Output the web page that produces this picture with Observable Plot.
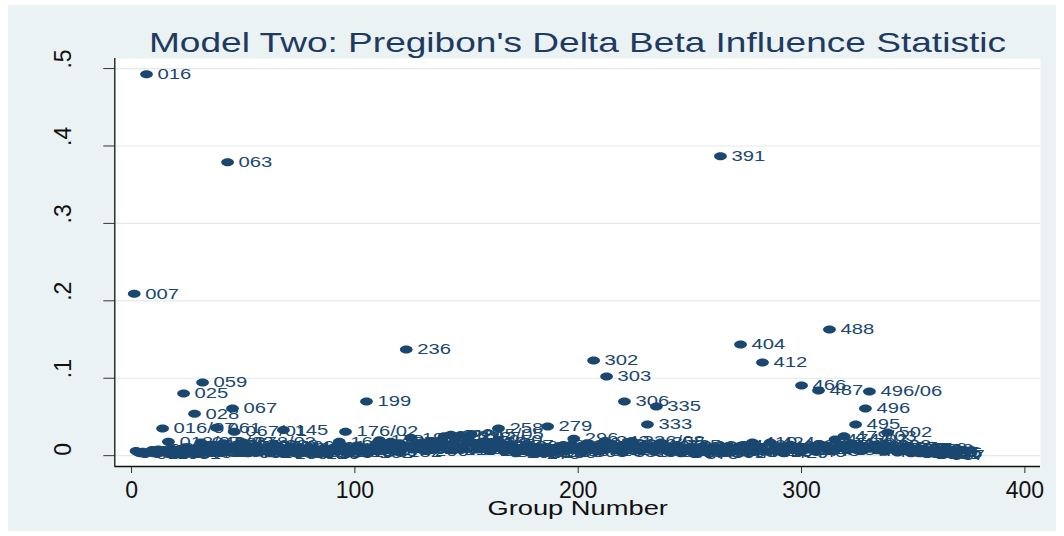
<!DOCTYPE html>
<html><head><meta charset="utf-8">
<script src="https://cdn.jsdelivr.net/npm/d3@7"></script>
<script src="https://cdn.jsdelivr.net/npm/@observablehq/plot@0.6"></script>
<style>
html,body{margin:0;padding:0;background:#fff;}
#wrap{position:relative;width:1064px;height:536px;overflow:hidden;background:#fff;font-family:"Liberation Sans",Arial,sans-serif;}
#bg{position:absolute;left:8px;top:5px;right:8px;bottom:5px;background:#eaf2f3;}
#chart{position:absolute;left:0;top:0;}
#title{position:absolute;left:115px;width:925px;top:27px;text-align:center;font-size:28.5px;line-height:30px;color:#1f3a60;transform:scaleX(1.3);transform-origin:center;white-space:nowrap;}
</style></head><body>
<div id="wrap"><div id="bg"></div><div id="chart"></div><div id="title">Model Two: Pregibon's Delta Beta Influence Statistic</div></div>
<script>
// Labelled outlying groups
const outGroup = [1.2, 6.7, 43, 263.7, 123, 206.9, 212.7, 272.7, 282.5, 312.5, 300, 307.6, 330.4, 328.6, 324.2, 338.5, 31.8, 23.3, 28.2, 45.2, 105.2, 220.7, 235, 231, 186.3, 164.3, 13.9, 95.8, 68];
const outBeta  = [0.209, 0.4925, 0.379, 0.3866, 0.137, 0.123, 0.1023, 0.1437, 0.1204, 0.163, 0.0907, 0.0843, 0.0829, 0.061, 0.0403, 0.030, 0.0946, 0.0804, 0.054, 0.061, 0.070, 0.070, 0.0636, 0.0403, 0.0377, 0.035, 0.035, 0.031, 0.033];
const outLabel = ["007","016","063","391","236","302","303","404","412","488","466","487","496/06","496","495","502","059","025","028","067","199","306","335","333","279","258","016/07","176/02","145"];

// Dense band of small values near zero
const bandGroup = [
 2,3,4,5,6,8,9,10,11,12,
 13,15,16.5,17,18,19,20,21,22,24,
 25,26,27,29,30,31,33,34,35,36,
 37,38,39,40,41,42,44,46,47,48,
 49,50,51,52,54,55,56,57,58,60,
 61,62,63,64,66,67,68,70,71,72,
 74,75,76,78,79,80,82,83,85,86,
 88,89,90,92,93,94,95,97,98,100,
 101,103,104,106,107,108,110,111,112,114,
 115,116,118,119,120,121,123,125,126,127,
 129,130,131,133,134,135,137,138,139,140,
 141,142,143,144,145,146,147,148,150,151,
 152,154,155,157,158,160,161,162,164,166,
 167,169,170,172,173,175,176,178,179,181,
 182,184,185,187,188,190,191,193,194,196,
 197,198,199,201,202,204,205,208,209,210,
 211,212,214,215,217,218,220,221,224,225,
 226,228,229,231,233,234,237,238,240,241,
 243,244,246,247,249,250,252,253,255,256,
 258,259,261,262,264,266,267,269,270,272,
 273,275,276,278,279,281,282,285,286,288,
 289,291,292,294,295,297,298,300,302,303,
 305,306,308,310,311,313,315,316,318,319,
 321,322,324,326,327,329,331,333,334,336,
 337,338,340,341,343,344,346,347,349,350,
 351,352,353,354,355,355.5,356,357,357.5,358,
 358.5,359,360,360.5,361,362];
const bandBeta = [
 .006,.004,.003,.005,.002,.004,.007,.003,.005,.008,
 .004,.006,.018,.003,.009,.005,.002,.007,.004,.011,
 .003,.006,.009,.005,.012,.017,.004,.008,.010,.014,
 .006,.036,.011,.004,.016,.007,.009,.031,.012,.005,
 .008,.017,.013,.003,.010,.006,.012,.004,.009,.007,
 .011,.003,.008,.014,.005,.009,.002,.007,.012,.004,
 .006,.010,.003,.008,.005,.011,.002,.007,.004,.009,
 .003,.006,.010,.005,.018,.008,.012,.004,.009,.007,
 .013,.005,.008,.003,.010,.006,.015,.020,.009,.012,
 .007,.018,.011,.005,.016,.009,.013,.023,.008,.014,
 .010,.017,.006,.012,.019,.008,.015,.011,.021,.025,
 .009,.014,.027,.007,.022,.012,.026,.010,.024,.016,
 .028,.013,.008,.018,.011,.006,.015,.009,.020,.012,
 .005,.014,.008,.003,.010,.006,.012,.004,.009,.002,
 .007,.011,.004,.008,.003,.010,.005,.013,.006,.009,
 .014,.022,.008,.012,.005,.016,.009,.011,.006,.013,
 .008,.019,.010,.015,.007,.012,.004,.014,.019,.009,
 .011,.006,.013,.008,.010,.005,.017,.009,.012,.004,
 .007,.013,.003,.010,.006,.011,.002,.008,.005,.012,
 .004,.009,.006,.011,.003,.008,.012,.005,.010,.007,
 .013,.004,.009,.017,.006,.011,.008,.005,.017,.010,
 .006,.012,.003,.009,.014,.007,.011,.005,.010,.008,
 .012,.006,.015,.009,.013,.007,.021,.011,.014,.025,
 .010,.016,.008,.013,.006,.012,.009,.014,.007,.011,
 .005,.013,.008,.011,.004,.009,.006,.010,.003,.008,
 .005,.007,.003,.009,.004,.006,.002,.008,.005,.003,
 .006,.004,.002,.005,.003,.001];
const bandLabel = [
 "003","005","008","009","011","013","014","017","019","020",
 "021","022","018/07","027","029","030","031","034","036","039",
 "040","041","043","046","047","048/02","052","053","055","057",
 "058","061","062","064","066","068","070","067/01","073","075",
 "076","078/03","079","081","084","085","087","088","090","093",
 "094","096","097","099","102","103","105","108","109","111",
 "114","115","117","120","121","123","126","127","130","132",
 "135","136","138","141","169","144","146","149","150","153",
 "155","158","159","162","164","165","168","170","171","174",
 "176","177","180","182","183","185","188","191","192","194",
 "197","198","200","203","204","206","209","210","212","213",
 "215","216","218","219","221","222","224","225","228","230",
 "245/05","234","236/02","239","241","244","245","247","250","253",
 "254","257","259","262","263","266","268","271","272","275",
 "277","280","281","284","286","289","290","293","295","298",
 "299","296","301","304","305","308","309","313","315","316",
 "317","243","322","323","326","328","331","332","336/08","338",
 "339","342","344","346","349","351","355","356","359","361",
 "363","365","367","369","371","373","375","377","380","381",
 "384","385","388","389","392","394","396","398","399","402",
 "403","406","408","410","411","414","415","419","424","423",
 "425","428","429","432","433","436","437","440","443","445",
 "447","448","451","454","455","458","474/02","462","464","479/03",
 "469","470","473","476","477","480","483","486","487/05","490",
 "491","492","495/01","497","499","501","503","505","507","508",
 "510","512","514","516","518","519","522","523","525","527",
 "528","530","531","536","535","537"];

const xDomain = [-7.5, 407];
const yDomain = [-0.014, 0.513];
const xTicks = [0, 100, 200, 300, 400];
const yTicks = [0, 0.1, 0.2, 0.3, 0.4, 0.5];
const yTickLabels = ["0", ".1", ".2", ".3", ".4", ".5"];
const navy = "#1a476f";
// distinct colour string so the axis title can be found after rendering
const cXTitle = "#101010";

const points = [
  ...bandGroup.map((g, i) => ({g, b: bandBeta[i], label: bandLabel[i]})),
  ...outGroup.map((g, i) => ({g, b: outBeta[i], label: outLabel[i]}))
];

const ellipse = {
  draw(ctx, size) {
    const r = Math.sqrt(size / Math.PI), rx = r * 1.6, ry = r, k = 0.5523;
    ctx.moveTo(rx, 0);
    ctx.bezierCurveTo(rx, k * ry, k * rx, ry, 0, ry);
    ctx.bezierCurveTo(-k * rx, ry, -rx, k * ry, -rx, 0);
    ctx.bezierCurveTo(-rx, -k * ry, -k * rx, -ry, 0, -ry);
    ctx.bezierCurveTo(k * rx, -ry, rx, -k * ry, rx, 0);
    ctx.closePath();
  }
};

const font = "Liberation Sans, Arial, sans-serif";
const plot = Plot.plot({
  width: 1064, height: 536,
  marginLeft: 114.3, marginRight: 24, marginTop: 58, marginBottom: 70,
  style: {background: "transparent", fontFamily: font},
  x: {domain: xDomain},
  y: {domain: yDomain},
  marks: [
    Plot.frame({fill: "white", stroke: "none"}),
    Plot.gridY(yTicks, {stroke: "#e2eaec", strokeOpacity: 1, strokeWidth: 1.2}),
    Plot.axisY(yTicks, {tickSize: 11, tickFormat: () => "", label: null, stroke: "#333"}),
    Plot.text(yTicks, {y: d => d, text: (d, i) => yTickLabels[i], frameAnchor: "left", dx: -51, rotate: -90, fontSize: 23, fill: "#111"}),
    Plot.axisX(xTicks, {tickSize: 7, tickPadding: 8, fontSize: 23, label: null, stroke: "#333", fill: "#111"}),
    Plot.ruleX([xDomain[0]], {stroke: "#111", strokeWidth: 1.3}),
    Plot.ruleY([yDomain[0]], {stroke: "#111", strokeWidth: 1.3}),
    Plot.dot(points, {x: "g", y: "b", r: 4, symbol: ellipse, fill: navy, stroke: "none"}),
    Plot.text(points, {x: "g", y: "b", text: "label", dx: 11, textAnchor: "start", fontSize: 15, fill: navy}),
    Plot.text(["Group Number"], {frameAnchor: "bottom", dy: 48, fontSize: 21, fill: cXTitle})
  ]
});

// Horizontal stretch of the text glyphs, as in the reference picture
function stretchTexts(color, sx, sy) {
  plot.querySelectorAll(`g[fill="${color}"] text, text[fill="${color}"]`).forEach(t => {
    const tr = t.getAttribute("transform") || "";
    const x0 = parseFloat(t.getAttribute("x")) || 0;
    const y0 = parseFloat(t.getAttribute("y")) || 0;
    t.setAttribute("transform", `${tr} translate(${x0},${y0}) scale(${sx},${sy}) translate(${-x0},${-y0})`);
  });
}
stretchTexts(navy, 1.35, 1);
stretchTexts(cXTitle, 1.3, 1);

document.getElementById("chart").appendChild(plot);
</script>
</body></html>
